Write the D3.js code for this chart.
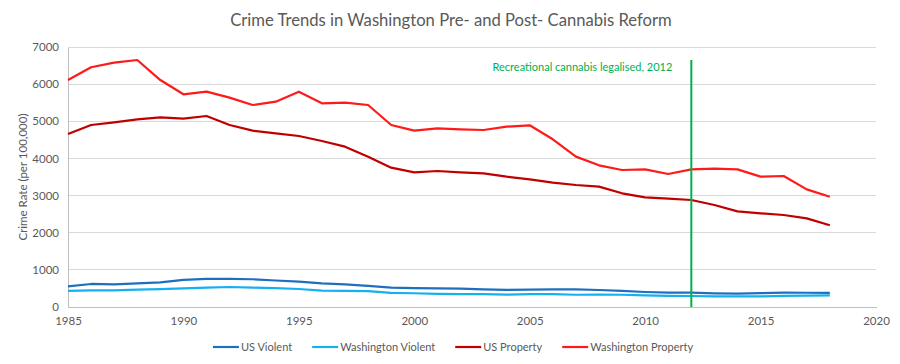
<!DOCTYPE html>
<html><head><meta charset="utf-8">
<script src="https://cdn.jsdelivr.net/npm/d3@7"></script>
<style>body{margin:0;background:#fff}svg{display:block}text{font-family:Lato,"Open Sans",sans-serif}</style>
</head><body><svg id="c" width="900" height="364"></svg>
<script>
const years = d3.range(1985, 2019);
const usViolent = [556,620,610,637,663,732,758,758,747,714,685,637,611,568,523,507,504,494,476,463,469,474,472,458,432,404,387,387,369,362,373,386,383,381];
const waViolent = [435,450,445,470,480,502,522,538,520,506,484,443,436,429,378,370,355,345,347,333,345,346,330,333,330,313,301,296,287,287,285,302,305,311];
const usProperty = [4658,4900,4972,5053,5107,5070,5143,4900,4747,4676,4604,4470,4317,4048,3751,3626,3662,3626,3599,3509,3438,3347,3285,3240,3061,2953,2917,2881,2746,2575,2522,2477,2387,2200];
const waProperty = [6112,6454,6578,6650,6110,5727,5797,5636,5439,5528,5797,5484,5502,5439,4900,4747,4810,4784,4765,4855,4892,4515,4048,3815,3689,3706,3581,3706,3724,3706,3509,3527,3168,2970];
const seriesNames = ["US Violent","Washington Violent","US Property","Washington Property"];
const seriesColors = ["#1F6FC0","#15B0F0","#C00000","#FF1A1A"];
const seriesValues = [usViolent, waViolent, usProperty, waProperty];
const yTicks = [0,1000,2000,3000,4000,5000,6000,7000];
const xTicks = [1985,1990,1995,2000,2005,2010,2015,2020];
const eventYear = 2012;
const eventLabel = "Recreational cannabis legalised, 2012";
const title = "Crime Trends in Washington Pre- and Post- Cannabis Reform";
const yTitle = "Crime Rate (per 100,000)";

const svg = d3.select("#c");
const x = d3.scaleLinear().domain([1985,2020]).range([68,876]);
const y = d3.scaleLinear().domain([0,7000]).range([307,47]);
const grey = "#595959";
const fs = "11px";

// gridlines
svg.append("g").selectAll("line").data(yTicks.filter(d=>d>0)).join("line")
  .attr("x1",x(1985)).attr("x2",x(2020)).attr("y1",d=>y(d)).attr("y2",d=>y(d))
  .attr("stroke","#d9d9d9").attr("stroke-width",1).attr("shape-rendering","crispEdges");

// axes
const yAxis = svg.append("g").attr("transform",`translate(${x(1985)},0)`)
  .call(d3.axisLeft(y).tickValues(yTicks).tickSize(0).tickPadding(9).tickFormat(d3.format("d")));
const xAxis = svg.append("g").attr("transform",`translate(0,${y(0)})`)
  .call(d3.axisBottom(x).tickValues(xTicks).tickSize(0).tickPadding(10).tickFormat(d3.format("d")));
[yAxis,xAxis].forEach(g=>{
  g.select(".domain").attr("stroke","#bfbfbf").attr("shape-rendering","crispEdges");
  g.selectAll("text").attr("fill",grey).style("font-size","11.5px").style("font-family","Lato,sans-serif");
});

// lines
const line = d3.line().x((d,i)=>x(years[i])).y(d=>y(d));
seriesValues.forEach((vals,k)=>{
  svg.append("path").datum(vals).attr("d",line).attr("fill","none")
    .attr("stroke",seriesColors[k]).attr("stroke-width",2.2).attr("stroke-linejoin","round");
});

// event line
svg.append("line").attr("x1",x(eventYear)).attr("x2",x(eventYear)).attr("y1",y(6650)).attr("y2",y(0))
  .attr("stroke","#00B050").attr("stroke-width",2);
svg.append("text").attr("x",x(eventYear)-19).attr("y",71).attr("text-anchor","end")
  .attr("fill","#00B050").style("font-size",fs).text(eventLabel);

// title
const t = svg.append("text").attr("x",451).attr("y",26).attr("text-anchor","middle")
  .attr("fill",grey).style("font-size","18px").text(title);
const tw = t.node().getComputedTextLength();
t.style("font-size",(18*442/tw).toFixed(2)+"px");

// y title
svg.append("text").attr("transform","translate(27,177) rotate(-90)").attr("text-anchor","middle")
  .attr("fill",grey).style("font-size","11.5px").text(yTitle);

// legend
const lg = svg.append("g");
let cx = 0;
seriesNames.forEach((n,k)=>{
  const g = lg.append("g").attr("transform",`translate(${cx},0)`);
  g.append("line").attr("x1",0).attr("x2",26).attr("y1",0).attr("y2",0).attr("stroke",seriesColors[k]).attr("stroke-width",2.2);
  const tx = g.append("text").attr("x",28).attr("y",4).attr("fill",grey).style("font-size",fs).text(n);
  const w = 28 + tx.node().getComputedTextLength();
  cx += w + 20;
});
const totalW = cx - 20;
lg.attr("transform",`translate(${453 - totalW/2},347)`);
</script></body></html>
